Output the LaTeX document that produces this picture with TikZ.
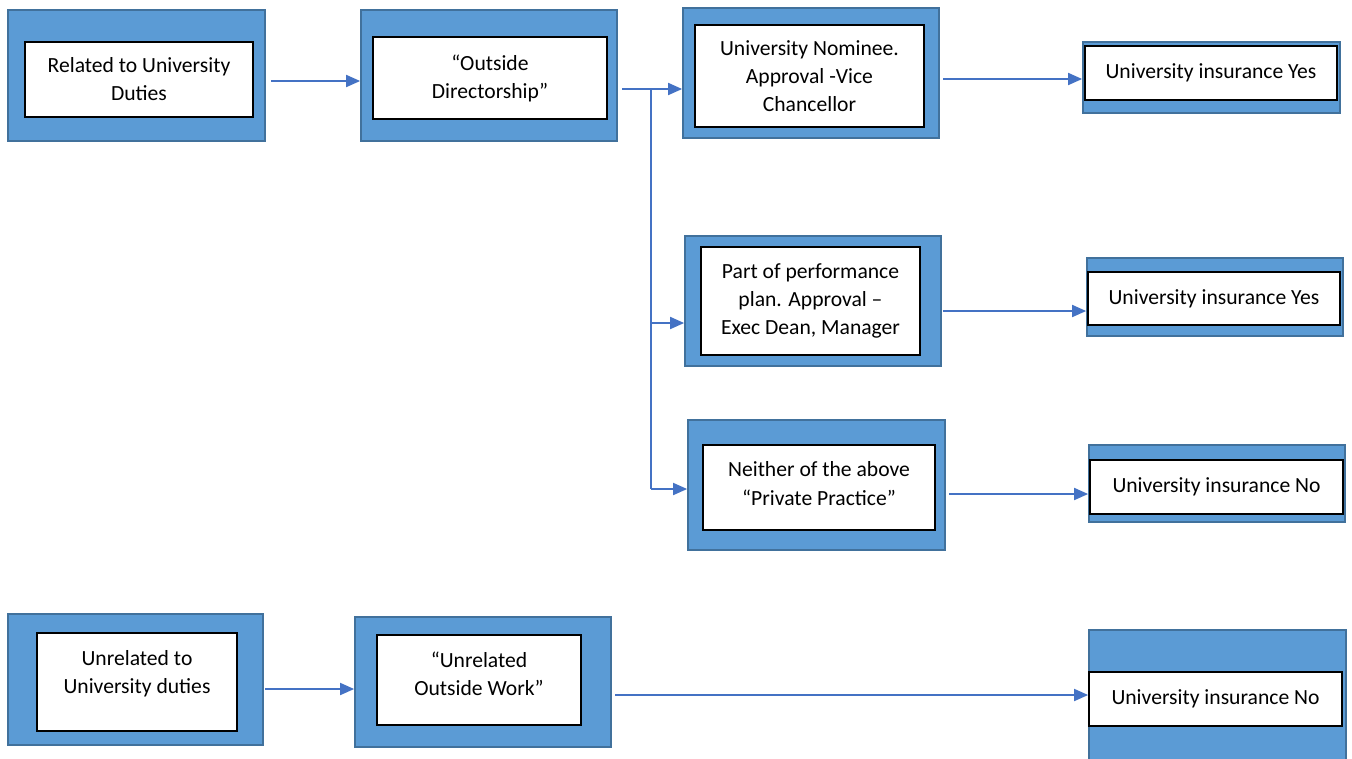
\documentclass[tikz,border=0pt]{standalone}
\usepackage{fontspec}
\setmainfont{Carlito}
\usetikzlibrary{arrows.meta, positioning}

\definecolor{boxblue}{HTML}{5B9BD5}
\definecolor{boxedge}{HTML}{41719C}
\definecolor{flowblue}{HTML}{4472C4}

\begin{document}
\begin{tikzpicture}[x=0.02cm, y=-0.02cm,
  outer/.style={rectangle, fill=boxblue, draw=boxedge, line width=1.1pt, inner sep=0pt},
  inner/.style={rectangle, fill=white, draw=black, line width=0.9pt, inner sep=0pt, align=center,
    font=\fontsize{12.3}{16}\selectfont},
  flow/.style={draw=flowblue, line width=0.6pt, -{Triangle[length=8pt, width=7pt]}}]
  \useasboundingbox (0,0) rectangle (1352,758);
% upper chain
\node[outer, minimum width=5.14cm, minimum height=2.62cm] (rel_out) at (136.5,75.5) {};
\node[inner, minimum width=4.56cm, minimum height=1.5cm] (rel) at (139,79.5) {Related to University\\Duties};
\node[outer, minimum width=5.12cm, minimum height=2.62cm] (dir_out) at (489,75.5) {};
\node[inner, minimum width=4.68cm, minimum height=1.64cm] (dir) at (490,78) {“Outside\\Directorship”};
% three cases
\node[outer, minimum width=5.12cm, minimum height=2.6cm] (nom_out) at (811,73) {};
\node[inner, minimum width=4.58cm, minimum height=2.04cm] (nom) at (809.5,76) {University Nominee.\\Approval -Vice\\Chancellor};
\node[outer, minimum width=5.12cm, minimum height=2.6cm] (perf_out) at (813,301) {};
\node[inner, minimum width=4.38cm, minimum height=2.16cm] (perf) at (810.5,301) {Part of performance\\plan. Approval --\\Exec Dean, Manager};
\node[outer, minimum width=5.14cm, minimum height=2.6cm] (priv_out) at (816.5,485) {};
\node[inner, minimum width=4.64cm, minimum height=1.7cm] (priv) at (819,487.5) {Neither of the above\\“Private Practice”\\[-11.4pt]};
% insurance
\node[outer, minimum width=5.14cm, minimum height=1.42cm] (ins1_out) at (1211.5,77.5) {};
\node[inner, minimum width=5.04cm, minimum height=1.08cm] (ins1) at (1211,73) {University insurance Yes};
\node[outer, minimum width=5.12cm, minimum height=1.56cm] (ins2_out) at (1215,297) {};
\node[inner, minimum width=5.04cm, minimum height=1.06cm] (ins2) at (1214,298.5) {University insurance Yes};
\node[outer, minimum width=5.12cm, minimum height=1.54cm] (ins3_out) at (1217,483.5) {};
\node[inner, minimum width=5.06cm, minimum height=1.08cm] (ins3) at (1216.5,487) {University insurance No};
% lower chain
\node[outer, minimum width=5.1cm, minimum height=2.62cm] (unrel_out) at (135.5,679.5) {};
\node[inner, minimum width=4cm, minimum height=1.96cm] (unrel) at (137,682) {Unrelated to\\University duties\\[-4.6pt]};
\node[outer, minimum width=5.12cm, minimum height=2.6cm] (work_out) at (483,682) {};
\node[inner, minimum width=4.08cm, minimum height=1.8cm] (work) at (479,680) {“Unrelated\\Outside Work”\\[-8.6pt]};
\node[outer, minimum width=5.14cm, minimum height=2.6cm] (ins4_out) at (1217.5,695) {};
\node[inner, minimum width=5.06cm, minimum height=1.08cm] (ins4) at (1215.5,699) {University insurance No};

\coordinate (s1) at (271,81);
\coordinate (s2) at (622,89);
\coordinate (split) at (651,89);
\coordinate (b2) at (651,323);
\coordinate (b3) at (651,489);
\coordinate (s4) at (943,79);
\coordinate (s5) at (943,311);
\coordinate (s6) at (949,494);
\coordinate (s7) at (265,689);
\coordinate (s8) at (615,695);
\draw[flow] (s1) -- (s1 -| dir_out.west);
\draw[flow] (s2) -- (s2 -| nom_out.west);
\draw[draw=flowblue, line width=0.6pt] (split) -- (b3);
\draw[flow] (b2) -- (b2 -| perf_out.west);
\draw[flow] (b3) -- (b3 -| priv_out.west);
\draw[flow] (s4) -- (s4 -| ins1_out.west);
\draw[flow] (s5) -- (s5 -| ins2_out.west);
\draw[flow] (s6) -- (s6 -| ins3_out.west);
\draw[flow] (s7) -- (s7 -| work_out.west);
\draw[flow] (s8) -- (s8 -| ins4_out.west);
\end{tikzpicture}
\end{document}
